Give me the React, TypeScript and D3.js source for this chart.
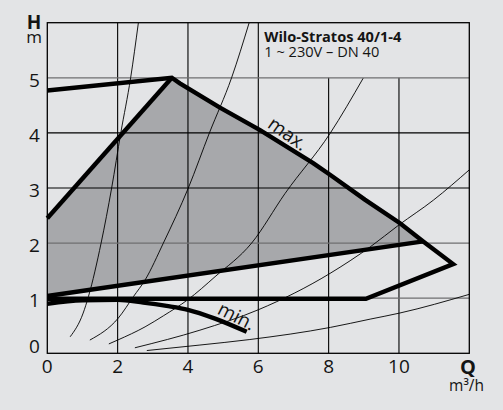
import React from "react";
import * as d3 from "d3";

type P = [number, number];

// axis ticks
const Q_TICKS = [0, 2, 4, 6, 8, 10];
const H_TICKS = [0, 1, 2, 3, 4, 5];
const H_GRID_GRAY = [1, 2, 5];
const H_GRID_BLACK = [3, 4];

// performance field (Q m³/h, H m)
const maxTop: P[] = [[0, 4.77], [3.54, 5.0]];
const maxCurve: P[] = [
  [3.54, 5.0], [3.77, 4.9], [4.91, 4.46], [6.05, 4.05], [7.56, 3.45],
  [8.04, 3.24], [9.03, 2.79], [10.03, 2.36], [10.69, 2.03], [11.54, 1.62],
];
const outerBottom: P[] = [[11.54, 1.62], [9.06, 0.99], [0, 0.99]];
const leftEdge: P[] = [[0, 2.45], [3.54, 5.0]];
const lowerEdge: P[] = [[0, 1.04], [10.69, 2.03]];
const minCurve: P[] = [
  [0, 0.9], [1, 0.96], [2, 0.97], [2.73, 0.92], [3.39, 0.86],
  [4, 0.79], [4.77, 0.63], [5.67, 0.39],
];

// system curves
const sysA: P[] = [[0.65, 0.3], [1.02, 0.73], [1.17, 1.03], [1.53, 2.0], [1.83, 3.0], [2.09, 4.0], [2.37, 5.0], [2.59, 6.0]];
const sysB: P[] = [[1.21, 0.24], [2.02, 0.64], [2.45, 1.03], [2.78, 1.33], [3.3, 2.0], [4.01, 3.0], [4.61, 4.0], [5.24, 5.0], [5.74, 6.0]];
const sysC: P[] = [[1.75, 0.17], [2.0, 0.24], [2.78, 0.48], [3.3, 0.68], [3.99, 0.97], [4.77, 1.39], [5.81, 2.0], [6.76, 2.9], [8.04, 3.99], [8.98, 4.99]];
const sysD: P[] = [[2.49, 0.1], [4.34, 0.42], [6.0, 0.79], [8.04, 1.45], [9.18, 1.93], [10.0, 2.33], [10.98, 2.78], [12.0, 3.33]];
const sysE: P[] = [[2.83, 0.05], [4.34, 0.15], [5.76, 0.25], [8.05, 0.47], [9.18, 0.62], [10.02, 0.73], [12.0, 1.07]];
const systemCurves = [sysA, sysB, sysC, sysD, sysE];

const TITLE = "Wilo-Stratos 40/1-4";
const SUBTITLE = "1 ~ 230V – DN 40";

const W = 503;
const HH = 410;
const FONT = "'Open Sans', 'Noto Sans', sans-serif";
const TXT = "#141414";

export default function App() {
  const x = d3.scaleLinear().domain([0, 12]).range([47.3, 469.3]);
  const y = d3.scaleLinear().domain([0, 6]).range([353.3, 22.7]);

  const lin = d3.line<P>().x((d) => x(d[0])).y((d) => y(d[1])).curve(d3.curveLinear);
  const smooth = d3.line<P>().x((d) => x(d[0])).y((d) => y(d[1])).curve(d3.curveMonotoneX);

  const darkPoly: P[] = [
    ...leftEdge,
    ...maxCurve.filter((p) => p[0] <= 10.69).slice(1),
    [0, 1.04],
  ];
  const outer: P[] = [...maxTop, ...maxCurve.slice(1), ...outerBottom.slice(1)];

  const thick = { fill: "none", stroke: "#000", strokeWidth: 4.4, strokeLinejoin: "miter" as const };

  return (
    <svg width={W} height={HH} style={{ position: "absolute", left: 0, top: 0 }} fontFamily={FONT}>
      <rect x={0} y={0} width={W} height={HH} fill="#e3e4e6" />
      <path d={lin(darkPoly) + "Z"} fill="#a7a8ab" stroke="none" />

      {/* vertical grid */}
      {Q_TICKS.filter((q) => q > 0).map((q) => (
        <line key={"v" + q} x1={x(q)} x2={x(q)} y1={y(0)} y2={q > 6 ? y(5) : y(6)} stroke="#000" strokeWidth={1.1} />
      ))}
      {H_GRID_BLACK.map((h) => (
        <line key={"hb" + h} x1={x(0)} x2={x(12)} y1={y(h)} y2={y(h)} stroke="#000" strokeWidth={1.1} />
      ))}
      {H_GRID_GRAY.map((h) => (
        <line key={"hg" + h} x1={x(0)} x2={x(12)} y1={y(h)} y2={y(h)} stroke="#6f6f70" strokeWidth={1.3} />
      ))}

      {systemCurves.map((c, i) => (
        <path key={"s" + i} d={smooth(c) || ""} fill="none" stroke="#000" strokeWidth={0.9} />
      ))}

      <rect x={x(0)} y={y(6)} width={x(12) - x(0)} height={y(0) - y(6)} fill="none" stroke="#000" strokeWidth={1.3} />

      <path d={lin(outer) || ""} {...thick} />
      <path d={lin(leftEdge) || ""} {...thick} />
      <path d={lin(lowerEdge) || ""} {...thick} />
      <path d={smooth(minCurve) || ""} {...thick} />

      {/* labels on curves */}
      <text
        x={x(6.85)} y={y(3.99)} fontSize={19} fill={TXT} textAnchor="middle" dominantBaseline="central"
        transform={`rotate(35 ${x(6.85)} ${y(3.99)})`}
      >max.</text>
      <text
        x={x(5.39)} y={y(0.68)} fontSize={19} fill={TXT} textAnchor="middle" dominantBaseline="central"
        transform={`rotate(27 ${x(5.39)} ${y(0.68)})`}
      >min.</text>

      {/* title */}
      <text x={x(6) + 6} y={y(6) + 19} fontSize={14.6} fill={TXT}>
        <tspan fontWeight="bold">{TITLE}</tspan>
        <tspan x={x(6) + 6} dy={15.6}>{SUBTITLE}</tspan>
      </text>

      {/* tick labels */}
      {Q_TICKS.map((q) => (
        <text key={"xl" + q} x={x(q)} y={y(0) + 20} fontSize={19} fill={TXT} textAnchor="middle">{q}</text>
      ))}
      {H_TICKS.map((h) => (
        <text key={"yl" + h} x={x(0) - 7.5} y={h === 0 ? y(0) - 7.5 : y(h) + 2} fontSize={19} fill={TXT}
          textAnchor="end" dominantBaseline="central">{h}</text>
      ))}

      {/* axis titles */}
      <text x={34} y={28.5} fill={TXT} textAnchor="middle">
        <tspan fontSize={19} fontWeight="bold">H</tspan>
        <tspan x={34} dy={14.5} fontSize={17}>m</tspan>
      </text>
      <text x={468} y={373.5} fill={TXT} textAnchor="middle">
        <tspan fontSize={20} fontWeight="bold">Q</tspan>
        <tspan x={466.5} dy={17.5} fontSize={15.5}>m³/h</tspan>
      </text>
    </svg>
  );
}
